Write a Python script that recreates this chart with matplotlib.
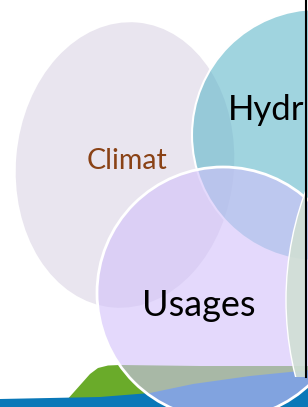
import matplotlib
matplotlib.use('Agg')
import matplotlib.pyplot as plt
from matplotlib.patches import Ellipse, Circle, Polygon, Rectangle

# ---- content ----
labels = ['Climat', 'Hydr', 'Usages']
label_colors = ['#8a4216', '#000000', '#000000']
label_sizes = [20.5, 25, 26]
label_pos = [(87, 169), (228, 120), (142, 316)]

# shapes (pixel coordinates of the 308x407 canvas)
climat_center, climat_w, climat_h, climat_angle = (125, 165), 218, 286, 5
hydro_center, hydro_r = (318, 135), 126
usages_center, usages_r = (223, 293), 126
green_center, green_r = (599, 300), 313

W, H = 308, 407
fig = plt.figure(figsize=(W / 100, H / 100), dpi=100)
ax = fig.add_axes([0, 0, 1, 1])
ax.set_xlim(0, W)
ax.set_ylim(H, 0)
ax.axis('off')

# landscape
hill = [(60, 407), (66, 401), (74, 392), (82, 383), (90, 374), (98, 368), (108, 365.5),
        (120, 365), (200, 366), (310, 366), (310, 407)]
ax.add_patch(Polygon(hill, closed=True, fc='#6aab2a', ec='none', zorder=1))
water = [(0, 399), (100, 397), (150, 393), (193, 384), (250, 376), (310, 370),
         (310, 407), (0, 407)]
ax.add_patch(Polygon(water, closed=True, fc='#0a78b8', ec='none', zorder=1.1))

# Climat
ax.add_patch(Ellipse(climat_center, climat_w, climat_h, angle=climat_angle,
                     fc='#e9e5ef', ec='none', zorder=2))
# Hydro
ax.add_patch(Circle(hydro_center, hydro_r, fc=(88/255, 180/255, 200/255, 0.57),
                    ec='white', lw=1.5, zorder=3))
# Usages
ax.add_patch(Circle(usages_center, usages_r, fc=(210/255, 193/255, 250/255, 0.6),
                    ec='white', lw=2, zorder=4))
# green-grey circle
clip = Rectangle((0, 0), 305, 377, transform=ax.transData)
gc = Circle(green_center, green_r, fc=(208/255, 223/255, 212/255, 0.9),
            ec='white', lw=1, zorder=5)
ax.add_patch(gc)
gc.set_clip_path(clip)

for lab, col, fs, (x, y) in zip(labels, label_colors, label_sizes, label_pos):
    ax.text(x, y, lab, color=col, fontsize=fs, family='Lato', ha='left',
            va='baseline', zorder=6)

# frame edge
ax.plot([305.5, 305.5], [0, 377], color='black', lw=1.5, zorder=7)

fig.savefig('out.png', dpi=100)
